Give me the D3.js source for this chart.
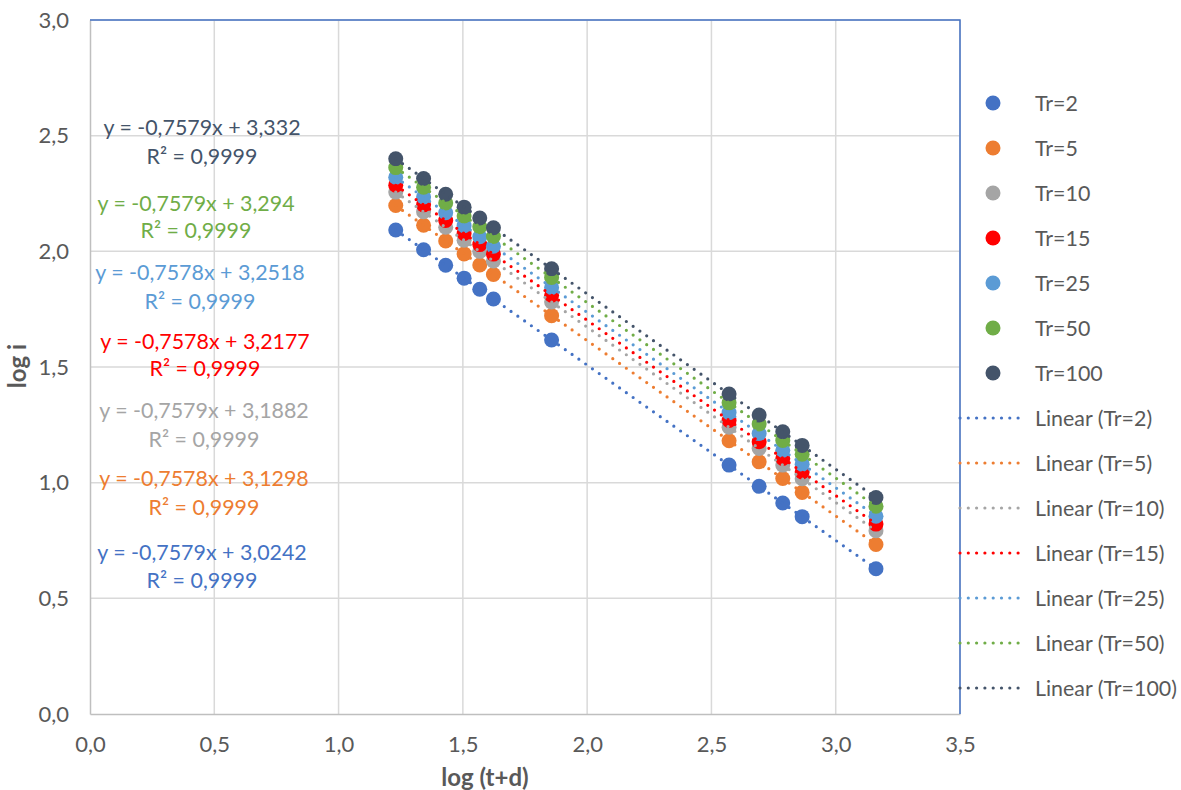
<!DOCTYPE html>
<html>
<head>
<meta charset="utf-8">
<script src="https://cdn.jsdelivr.net/npm/d3@7"></script>
<style>
  html, body { margin: 0; padding: 0; background: #fff; }
  svg { display: block; font-family: Lato, "Open Sans", sans-serif; }
</style>
</head>
<body>
<svg id="chart" width="1181" height="790"></svg>
<script>
// log(t+d) for each duration
const logTD = [1.230, 1.342, 1.431, 1.505, 1.568, 1.623, 1.857, 2.571, 2.692, 2.787, 2.865, 3.162];

// log i for each return period
const tr2   = [2.092, 2.007, 1.940, 1.884, 1.836, 1.794, 1.617, 1.076, 0.984, 0.912, 0.853, 0.628];
const tr5   = [2.198, 2.113, 2.045, 1.989, 1.941, 1.900, 1.722, 1.181, 1.090, 1.018, 0.958, 0.733];
const tr10  = [2.256, 2.171, 2.104, 2.048, 2.000, 1.958, 1.781, 1.240, 1.148, 1.076, 1.017, 0.792];
const tr15  = [2.286, 2.201, 2.133, 2.077, 2.029, 1.988, 1.810, 1.269, 1.177, 1.105, 1.046, 0.821];
const tr25  = [2.320, 2.235, 2.167, 2.111, 2.063, 2.022, 1.844, 1.303, 1.212, 1.140, 1.080, 0.855];
const tr50  = [2.362, 2.277, 2.209, 2.153, 2.106, 2.064, 1.887, 1.345, 1.254, 1.182, 1.123, 0.898];
const tr100 = [2.400, 2.315, 2.247, 2.191, 2.144, 2.102, 1.925, 1.383, 1.292, 1.220, 1.161, 0.936];

const seriesNames = ["Tr=2", "Tr=5", "Tr=10", "Tr=15", "Tr=25", "Tr=50", "Tr=100"];
const seriesValues = [tr2, tr5, tr10, tr15, tr25, tr50, tr100];
const seriesColors = ["#4472C4", "#ED7D31", "#A5A5A5", "#FF0000", "#5B9BD5", "#70AD47", "#44546A"];

// fitted trendlines y = slope*x + intercept
const slopes     = [-0.7579, -0.7578, -0.7579, -0.7578, -0.7578, -0.7579, -0.7579];
const intercepts = [3.0242, 3.1298, 3.1882, 3.2177, 3.2518, 3.294, 3.332];
const rSquared   = [0.9999, 0.9999, 0.9999, 0.9999, 0.9999, 0.9999, 0.9999];

const xTicks = [0, 0.5, 1, 1.5, 2, 2.5, 3, 3.5];
const yTicks = [0, 0.5, 1, 1.5, 2, 2.5, 3];

const svg = d3.select("#chart");
const plot = { left: 90, right: 960, top: 20, bottom: 714 };

const x = d3.scaleLinear().domain([0, 3.5]).range([plot.left, plot.right]);
const y = d3.scaleLinear().domain([0, 3]).range([plot.bottom, plot.top]);

const locale = d3.formatLocale({ decimal: ",", thousands: ".", grouping: [3], currency: ["", ""] });
const f1 = locale.format(".1f");
const fNum = v => String(v).replace(".", ",");

const textColor = "#595959";
const tickSize = 22;
const labelSize = 21.4;
const titleSize = 24;

// gridlines
svg.append("g")
  .selectAll("line")
  .data(xTicks.slice(1))
  .join("line")
  .attr("x1", d => x(d)).attr("x2", d => x(d))
  .attr("y1", plot.top).attr("y2", plot.bottom)
  .attr("stroke", "#D9D9D9").attr("stroke-width", 1.5);

svg.append("g")
  .selectAll("line")
  .data(yTicks.slice(1))
  .join("line")
  .attr("x1", plot.left).attr("x2", plot.right)
  .attr("y1", d => y(d)).attr("y2", d => y(d))
  .attr("stroke", "#D9D9D9").attr("stroke-width", 1.5);

// axes
const xAxis = svg.append("g")
  .attr("transform", `translate(0,${plot.bottom})`)
  .call(d3.axisBottom(x).tickValues(xTicks).tickFormat(f1).tickSize(0).tickPadding(22));
const yAxis = svg.append("g")
  .attr("transform", `translate(${plot.left},0)`)
  .call(d3.axisLeft(y).tickValues(yTicks).tickFormat(f1).tickSize(0).tickPadding(21));

[xAxis, yAxis].forEach(g => {
  g.select(".domain").attr("stroke", "#BFBFBF").attr("stroke-width", 1.5);
  g.selectAll("text")
    .attr("font-family", "Lato, 'Open Sans', sans-serif")
    .attr("font-size", tickSize)
    .attr("fill", textColor);
});

// plot area border (top and right)
svg.append("path")
  .attr("d", `M${plot.left},${plot.top}H${plot.right}V${plot.bottom}`)
  .attr("fill", "none")
  .attr("stroke", "#4472C4")
  .attr("stroke-width", 1.5);

// markers
seriesValues.forEach((vals, i) => {
  svg.append("g")
    .selectAll("circle")
    .data(vals.map((v, j) => [logTD[j], v]))
    .join("circle")
    .attr("cx", d => x(d[0]))
    .attr("cy", d => y(d[1]))
    .attr("r", 7.5)
    .attr("fill", seriesColors[i]);
});

// trendlines
const xMin = d3.min(logTD), xMax = d3.max(logTD);
seriesValues.forEach((vals, i) => {
  const line = d3.line().x(d => x(d)).y(d => y(slopes[i] * d + intercepts[i]));
  svg.append("path")
    .attr("d", line([xMin, xMax]))
    .attr("fill", "none")
    .attr("stroke", seriesColors[i])
    .attr("stroke-width", 3.2)
    .attr("stroke-linecap", "round")
    .attr("stroke-dasharray", "0 8.3");
});

// trendline equations
const eqPos = [
  { cx: 202, y1: 560, y2: 588 },
  { cx: 204, y1: 486, y2: 515 },
  { cx: 204, y1: 418, y2: 447 },
  { cx: 205, y1: 349, y2: 376 },
  { cx: 200, y1: 280, y2: 309 },
  { cx: 196, y1: 211, y2: 238 },
  { cx: 202, y1: 135, y2: 164 }
];
seriesNames.forEach((name, i) => {
  const g = svg.append("g")
    .attr("fill", seriesColors[i])
    .attr("font-size", labelSize)
    .attr("text-anchor", "middle");
  g.append("text")
    .attr("x", eqPos[i].cx).attr("y", eqPos[i].y1)
    .text(`y = ${fNum(slopes[i])}x + ${fNum(intercepts[i])}`);
  g.append("text")
    .attr("x", eqPos[i].cx).attr("y", eqPos[i].y2)
    .text(`R² = ${fNum(rSquared[i])}`);
});

// axis titles
svg.append("text")
  .attr("x", 485).attr("y", 786)
  .attr("text-anchor", "middle")
  .attr("font-size", titleSize).attr("font-weight", "bold")
  .attr("fill", textColor)
  .text("log (t+d)");
svg.append("text")
  .attr("transform", "translate(26,366) rotate(-90)")
  .attr("text-anchor", "middle")
  .attr("font-size", titleSize).attr("font-weight", "bold")
  .attr("fill", textColor)
  .text("log i");

// legend: markers then trendlines
const legendStep = 45;
seriesNames.forEach((name, i) => {
  const cy = 103 + i * legendStep;
  svg.append("circle").attr("cx", 993).attr("cy", cy).attr("r", 7.5).attr("fill", seriesColors[i]);
  svg.append("text").attr("x", 1035).attr("y", cy + 7.5)
    .attr("font-size", labelSize).attr("fill", textColor).text(name);
});
seriesNames.forEach((name, i) => {
  const cy = 103 + (i + 7) * legendStep;
  svg.append("line")
    .attr("x1", 960).attr("x2", 1026).attr("y1", cy).attr("y2", cy)
    .attr("stroke", seriesColors[i]).attr("stroke-width", 3.2)
    .attr("stroke-linecap", "round").attr("stroke-dasharray", "0 8.3");
  svg.append("text").attr("x", 1035).attr("y", cy + 7.5)
    .attr("font-size", labelSize).attr("fill", textColor).text(`Linear (${name})`);
});
</script>
</body>
</html>
